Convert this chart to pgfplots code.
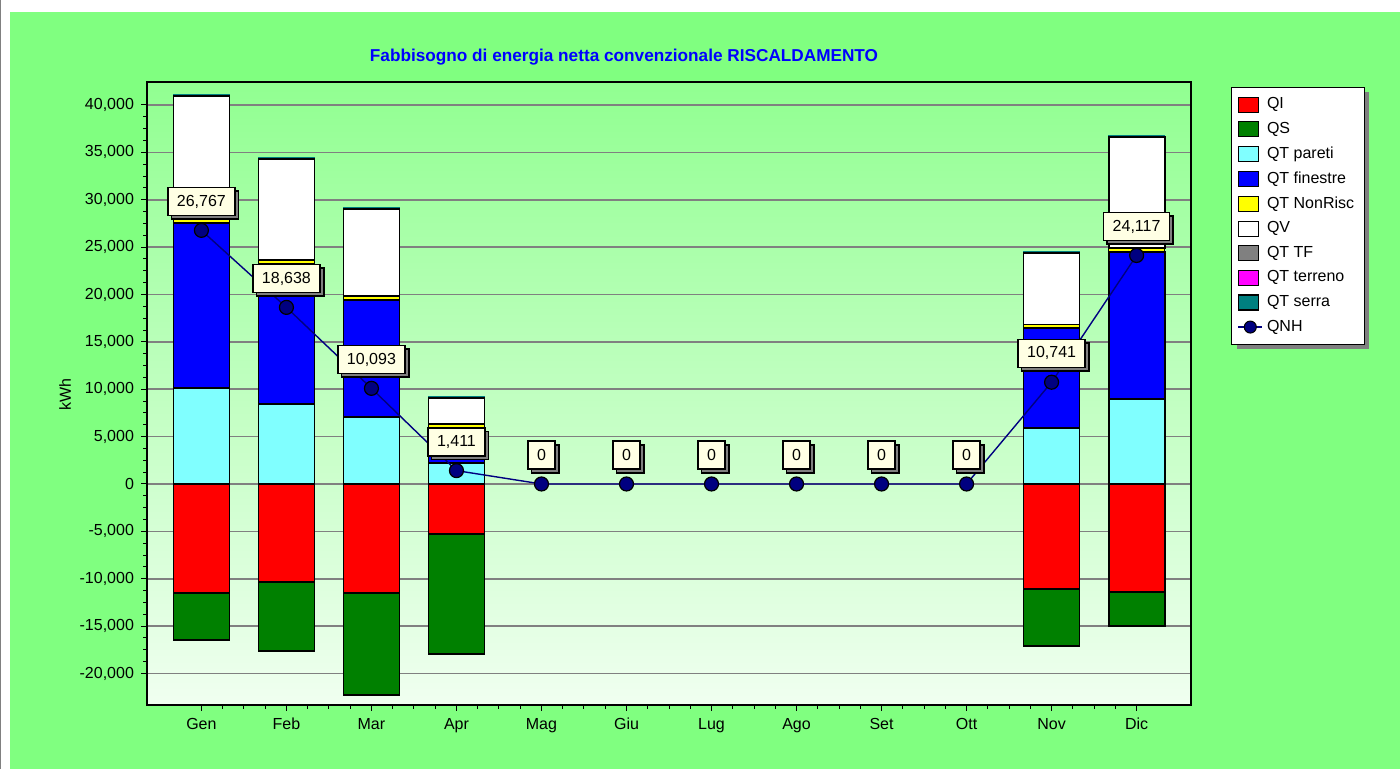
\documentclass[border=0pt]{standalone}
\usepackage{pgfplots}
\pgfplotsset{compat=1.18}
\usepackage{pgfplotstable}
\usepackage{fontspec}
\setmainfont{Liberation Sans}
\usetikzlibrary{shadows}
\definecolor{bggreen}{RGB}{128,255,128}
\definecolor{bgtop}{RGB}{145,255,145}
\definecolor{bgbot}{RGB}{240,255,240}
\definecolor{cQI}{RGB}{255,0,0}
\definecolor{cQS}{RGB}{0,128,0}
\definecolor{cPar}{RGB}{128,255,255}
\definecolor{cFin}{RGB}{0,0,255}
\definecolor{cNon}{RGB}{255,255,0}
\definecolor{cTF}{RGB}{128,128,128}
\definecolor{cTer}{RGB}{255,0,255}
\definecolor{cSer}{RGB}{0,128,128}
\definecolor{cQNH}{RGB}{0,0,128}
\definecolor{cream}{RGB}{255,255,228}
\definecolor{gridgray}{RGB}{128,128,128}

% month index, values in kWh
\pgfplotstableread{
x  QI     QS      Par   Fin    Non  QV     Ser
0  -11470 -4990   10130 17450  380  12990  120
1  -10380 -7250   8440  14780  380  10700  120
2  -11540 -10760  7100  12320  380  9220   120
3  -5310  -12630  2190  3770   380  2770   120
4  0      0       0     0      0    0      0
5  0      0       0     0      0    0      0
6  0      0       0     0      0    0      0
7  0      0       0     0      0    0      0
8  0      0       0     0      0    0      0
9  0      0       0     0      0    0      0
10 -11080 -5990   5940  10490  380  7540   120
11 -11430 -3590   8940  15580  380  11690  120
}\datatab

\pgfplotstableread{
x  QNH
0  26767
1  18638
2  10093
3  1411
4  0
5  0
6  0
7  0
8  0
9  0
10 10741
11 24117
}\qnhtab

\begin{document}
\begin{tikzpicture}[x=1pt,y=1pt]
\useasboundingbox (0,0) rectangle (700,384.5);
\fill[white] (0,0) rectangle (700,384.5);
\fill[bggreen] (5,0) rectangle (700,378.5);
\draw[gray, line width=0.6pt] (0.3,0) -- (0.3,384.5);
% legend shadow
\fill[gray] (618.5,210) rectangle (684.5,338.5);

\pgfplotsset{
  common/.style={
    scale only axis, width=522pt, height=311.5pt,
    at={(73.5pt,32pt)}, anchor=south west,
    xmin=-0.64, xmax=11.64, ymin=-23325, ymax=42427,
  },
  barst/.style={draw=black, line width=0.9pt},
}

% Axis A: background, grid, ticks, negative stack
\begin{axis}[common,
  ybar stacked, bar width=28pt,
  axis background/.style={top color=bgtop, bottom color=bgbot},
  ymajorgrids, grid style={gridgray, line width=0.8pt},
  axis line style={black, line width=1.1pt},
  xtick={0,...,11},
  xticklabels={Gen,Feb,Mar,Apr,Mag,Giu,Lug,Ago,Set,Ott,Nov,Dic},
  minor x tick num=3,
  ytick={-20000,-15000,...,40000},
  minor y tick num=3,
  tick align=outside, tick pos=left,
  major tick length=3pt, minor tick length=2pt,
  every tick/.style={black, line width=0.5pt},
  yticklabel={\pgfmathprintnumber[assume math mode=true,fixed,precision=0,1000 sep={,}]{\tick}},
  tick label style={font=\fontsize{8}{9}\selectfont},
  scaled y ticks=false,
]
\addplot[barst, fill=cQI] table[x=x,y=QI]{\datatab};
\addplot[barst, fill=cQS] table[x=x,y=QS]{\datatab};
\end{axis}

% Axis B: positive stack
\begin{axis}[common, hide axis, ybar stacked, bar width=28pt]
\addplot[barst, fill=cPar] table[x=x,y=Par]{\datatab};
\addplot[barst, fill=cFin] table[x=x,y=Fin]{\datatab};
\addplot[draw=black, line width=0.6pt, fill=cNon] table[x=x,y=Non]{\datatab};
\addplot[barst, fill=white] table[x=x,y=QV]{\datatab};
\addplot[draw=cSer, fill=cSer, line width=0.8pt] table[x=x,y=Ser]{\datatab};
\end{axis}

% Axis C: QNH line, labels, legend
\begin{axis}[common, hide axis, clip=false,
  legend style={at={(1.0383,0.992)}, anchor=north west, draw=black, line width=0.6pt,
    fill=white, font=\fontsize{8}{9}\selectfont, row sep=1.2pt,
    inner xsep=3pt, inner ysep=3pt},
  legend cell align=left,
]
\addlegendimage{legend image code/.code={\filldraw[fill=cQI, draw=black, line width=0.6pt] (0pt,-3.75pt) rectangle (10pt,3.75pt);}}\addlegendentry{QI}
\addlegendimage{legend image code/.code={\filldraw[fill=cQS, draw=black, line width=0.6pt] (0pt,-3.75pt) rectangle (10pt,3.75pt);}}\addlegendentry{QS}
\addlegendimage{legend image code/.code={\filldraw[fill=cPar, draw=black, line width=0.6pt] (0pt,-3.75pt) rectangle (10pt,3.75pt);}}\addlegendentry{QT pareti}
\addlegendimage{legend image code/.code={\filldraw[fill=cFin, draw=black, line width=0.6pt] (0pt,-3.75pt) rectangle (10pt,3.75pt);}}\addlegendentry{QT finestre}
\addlegendimage{legend image code/.code={\filldraw[fill=cNon, draw=black, line width=0.6pt] (0pt,-3.75pt) rectangle (10pt,3.75pt);}}\addlegendentry{QT NonRisc}
\addlegendimage{legend image code/.code={\filldraw[fill=white, draw=black, line width=0.6pt] (0pt,-3.75pt) rectangle (10pt,3.75pt);}}\addlegendentry{QV}
\addlegendimage{legend image code/.code={\filldraw[fill=cTF, draw=black, line width=0.6pt] (0pt,-3.75pt) rectangle (10pt,3.75pt);}}\addlegendentry{QT TF}
\addlegendimage{legend image code/.code={\filldraw[fill=cTer, draw=black, line width=0.6pt] (0pt,-3.75pt) rectangle (10pt,3.75pt);}}\addlegendentry{QT terreno}
\addlegendimage{legend image code/.code={\filldraw[fill=cSer, draw=black, line width=0.6pt] (0pt,-3.75pt) rectangle (10pt,3.75pt);}}\addlegendentry{QT serra}
\addplot[cQNH, line width=0.7pt, mark=*, mark size=3.5pt,
  mark options={fill=cQNH, draw=black, line width=0.6pt},
  legend image code/.code={\draw[cQNH, line width=0.7pt] (0pt,0pt) -- (12pt,0pt);
     \filldraw[fill=cQNH, draw=black, line width=0.5pt] (6pt,0pt) circle (3pt);},
  nodes near coords={\pgfmathprintnumber[assume math mode=true,fixed,precision=0,1000 sep={,}]{\pgfplotspointmeta}},
  every node near coord/.style={draw=black, line width=0.8pt, fill=cream, text=black,
    font=\fontsize{8}{9}\selectfont, inner xsep=4.6pt, inner ysep=0pt, minimum height=14pt,
    anchor=south, yshift=7pt,
    drop shadow={fill=gray, opacity=1, shadow xshift=1.8pt, shadow yshift=-1.8pt}},
] table[x=x,y=QNH]{\qnhtab};
\addlegendentry{QNH}
\end{axis}

\node[font=\bfseries\fontsize{8.6}{9.6}\selectfont, text=blue] at (312,356) {Fabbisogno di energia netta convenzionale RISCALDAMENTO};
\node[font=\fontsize{8}{9}\selectfont, rotate=90] at (32.5,187) {kWh};
\end{tikzpicture}
\end{document}
